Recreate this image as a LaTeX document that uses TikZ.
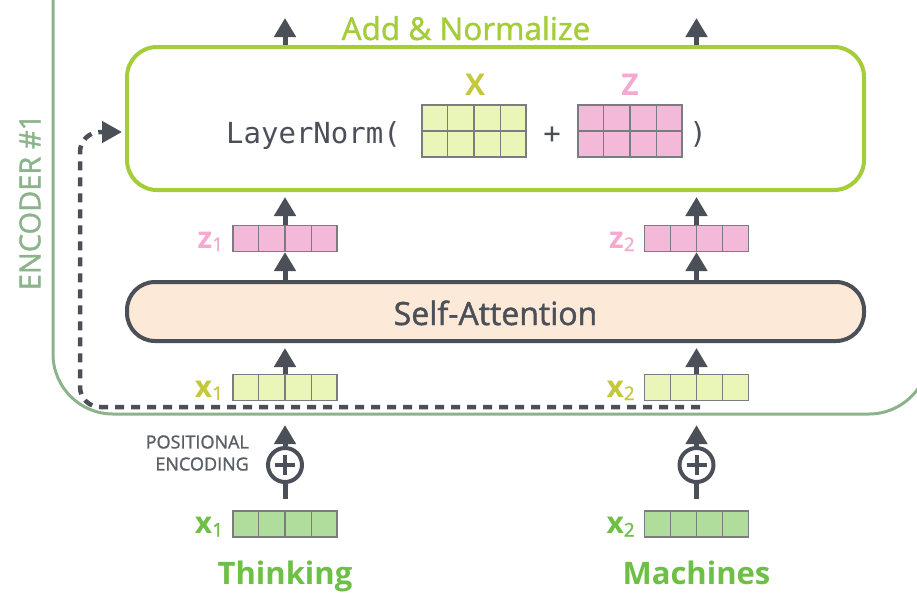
\documentclass[tikz,border=0pt]{standalone}
\usepackage{fontspec}
\setmainfont{Open Sans}
\newfontfamily\medfont[FakeBold=1.4]{Open Sans}
\newfontfamily\monofont{DejaVu Sans Mono}
\usetikzlibrary{arrows.meta,calc}
\definecolor{dk}{HTML}{4B4F58}
\definecolor{encg}{HTML}{8CB48C}
\definecolor{ang}{HTML}{A5CD39}
\definecolor{ycell}{HTML}{EAF6B8}
\definecolor{ylab}{HTML}{C3C83C}
\definecolor{pcell}{HTML}{F4B9D9}
\definecolor{plab}{HTML}{F4A9CF}
\definecolor{gcell}{HTML}{B0DC9C}
\definecolor{glab}{HTML}{6DBF45}
\definecolor{peach}{HTML}{FCE9D8}
\definecolor{cellgr}{HTML}{7A7D80}
\definecolor{pegray}{HTML}{5A5E66}
\newcommand\cellgrid[1]{%
  \foreach \k in {1,2,3}
    \draw[cellline] ($(#1.north west)!\k/4!(#1.north east)$) -- ($(#1.south west)!\k/4!(#1.south east)$);}
\newcommand\matgrid[1]{\cellgrid{#1}\draw[cellline] (#1.west) -- (#1.east);}
\newcommand\vl[2]{{\bfseries #1}\raisebox{-3pt}{\medfont\fontsize{19}{19}\selectfont #2}}
\begin{document}
\begin{tikzpicture}[x=1pt,y=-1pt,
  cellline/.style={draw=cellgr, line width=1.2pt},
  vec/.style={draw=cellgr, line width=1.2pt, minimum width=104pt, minimum height=26pt, inner sep=0pt},
  yvec/.style={vec, fill=ycell},
  pvec/.style={vec, fill=pcell},
  gvec/.style={vec, fill=gcell},
  mat/.style={vec, minimum height=52pt},
  arr/.style={draw=dk, line width=5pt, -{Triangle[length=19pt,width=21pt]}},
  lab/.style={inner sep=0pt, anchor=base east, font=\fontsize{30}{30}\selectfont},
  word/.style={inner sep=0pt, anchor=base, text=glab, font=\fontsize{31}{31}\selectfont\bfseries},
  pe/.style={circle, draw=dk, line width=4pt, minimum size=34pt, inner sep=0pt}
]
\useasboundingbox (0,0) rectangle (917,592);
\clip (0,0) rectangle (917,592);

% encoder outline
\draw[encg, line width=3pt, rounded corners=60pt] (53,-40) -- (53,414) -- (929,414) -- (929,-40);
\node[rotate=90, text=encg, inner sep=0pt, font=\medfont\fontsize{29}{29}\selectfont] (enc) at (30,202) {ENCODER \#1};

% add & normalize
\node[draw=ang, line width=4pt, rounded corners=30pt, minimum width=737pt, minimum height=143pt] (an) at (495.5,118.5) {};
\node[inner sep=0pt, anchor=base, text=ang, font=\medfont\fontsize{31.5}{31.5}\selectfont] (antitle) at (466,40) {Add \& Normalize};
\node[inner sep=0pt, anchor=base west, text=dk, font=\monofont\fontsize{29}{29}\selectfont] (ln) at (226,143) {LayerNorm(};
\node[mat, fill=ycell] (mx) at (474,131) {};
\matgrid{mx}
\node[mat, fill=pcell] (mz) at (630,131) {};
\matgrid{mz}
\node[inner sep=0pt, anchor=base, text=dk, font=\monofont\fontsize{29}{29}\selectfont] (plus) at (552,143) {+};
\node[inner sep=0pt, anchor=base, text=dk, font=\monofont\fontsize{29}{29}\selectfont] (rp) at (698,143) {)};
\node[inner sep=0pt, anchor=base, text=ylab, font=\fontsize{30}{30}\selectfont\bfseries] (lx) at (475,95) {X};
\node[inner sep=0pt, anchor=base, text=plab, font=\fontsize{30}{30}\selectfont\bfseries] (lz) at (630,95) {Z};

% self-attention
\node[draw=dk, fill=peach, line width=4pt, rounded corners=28pt, minimum width=737pt, minimum height=59pt] (sa) at (495.5,311.5) {};
\node[inner sep=0pt, anchor=base, text=dk, font=\medfont\fontsize{32}{32}\selectfont] (satext) at (495.5,325) {Self-Attention};

% vectors
\node[pvec] (z1) at (285,238.5) {}; \cellgrid{z1}
\node[pvec] (z2) at (696.5,238.5) {}; \cellgrid{z2}
\node[yvec] (x1) at (285,387.5) {}; \cellgrid{x1}
\node[yvec] (x2) at (696.5,387.5) {}; \cellgrid{x2}
\node[gvec] (e1) at (285,524) {}; \cellgrid{e1}
\node[gvec] (e2) at (696.5,524) {}; \cellgrid{e2}

\node[lab, text=plab] (lz1) at ($(z1.south west)+(-9,-4)$) {\vl{z}{1}};
\node[lab, text=plab] (lz2) at ($(z2.south west)+(-9,-4)$) {\vl{z}{2}};
\node[lab, text=ylab] (lx1) at ($(x1.south west)+(-9,-4)$) {\vl{x}{1}};
\node[lab, text=ylab] (lx2) at ($(x2.south west)+(-9,-4)$) {\vl{x}{2}};
\node[lab, text=glab] (le1) at ($(e1.south west)+(-9,-4)$) {\vl{x}{1}};
\node[lab, text=glab] (le2) at ($(e2.south west)+(-9,-4)$) {\vl{x}{2}};

% positional encoding
\node[pe] (pe1) at (285,465) {};
\node[pe] (pe2) at (696.5,465) {};
\foreach \p in {pe1,pe2}
  \draw[dk, line width=4pt] ($(\p.center)+(-10,0)$) -- ($(\p.center)+(10,0)$)
                            ($(\p.center)+(0,-10)$) -- ($(\p.center)+(0,10)$);
\node[inner sep=0pt, anchor=east, align=right, text=pegray, font=\medfont\fontsize{18}{22}\selectfont] (pel) at (249,453) {POSITIONAL\\ENCODING};

% words
\node[word] (w1) at (285,584) {Thinking};
\node[word] (w2) at (696.5,584) {Machines};

% arrows
\coordinate (o1) at (285,18);
\coordinate (o2) at (696.5,18);
\draw[arr] (an.north -| o1) -- (o1);
\draw[arr] (an.north -| o2) -- (o2);
\foreach \i in {1,2}{
  \draw[arr, shorten >=5pt] (z\i.north) -- (z\i.north |- an.south);
  \draw[arr] (sa.north -| z\i.south) -- (z\i.south);
  \draw[arr, shorten >=5pt] (x\i.north) -- (x\i.north |- sa.south);
  \draw[arr, shorten >=24pt] (pe\i.north) -- (x\i.south);
  \draw[dk, line width=5pt, shorten <=11pt] (e\i.north) -- (pe\i.south);
}

% residual dashed connection
\coordinate (ds) at (700,407);
\coordinate (dc1) at (80,407);
\coordinate (dc2) at (80,132);
\coordinate (dt) at (122,132);
\draw[dk, line width=4.5pt, dash pattern=on 9pt off 7pt, rounded corners=20pt, -{Triangle[length=20pt,width=21pt]}] (ds) -- (dc1) -- (dc2) -- (dt);
\end{tikzpicture}
\end{document}
